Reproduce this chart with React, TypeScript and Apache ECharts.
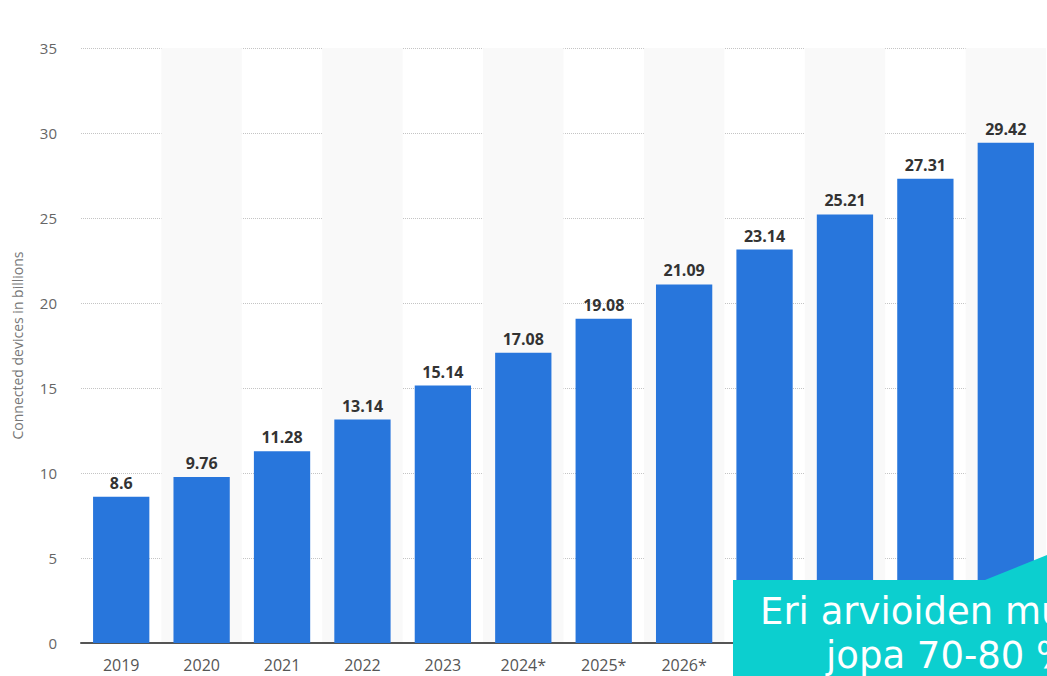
import React, { useEffect, useRef } from "react";
import * as echarts from "echarts";

const categories = ["2019", "2020", "2021", "2022", "2023", "2024*", "2025*", "2026*", "2027*", "2028*", "2029*", "2030*"];
const values = [8.6, 9.76, 11.28, 13.14, 15.14, 17.08, 19.08, 21.09, 23.14, 25.21, 27.31, 29.42];
const yTicks = [0, 5, 10, 15, 20, 25, 30, 35];
const axisTitle = "Connected devices in billions";
const overlayLines = ["Eri arvioiden mukaan", "jopa 70-80 %"];

export default function App() {
  const ref = useRef<HTMLDivElement>(null);
  useEffect(() => {
    document.body.style.margin = "0";
    const chart = echarts.init(ref.current!, null, { renderer: "svg" });
    chart.setOption({
      animation: false,
      textStyle: { fontFamily: "Open Sans" },
      grid: { left: 81, right: 1, top: 48, bottom: 33 },
      xAxis: {
        type: "category",
        data: categories,
        axisLine: { lineStyle: { color: "#555", width: 2 } },
        axisTick: { show: false },
        axisLabel: { color: "#555", fontSize: 16, margin: 14 },
        splitArea: { show: true, areaStyle: { color: ["rgba(255,255,255,0)", "#f9f9f9"] } },
      },
      yAxis: {
        type: "value",
        min: yTicks[0],
        max: yTicks[yTicks.length - 1],
        interval: 5,
        name: axisTitle,
        nameLocation: "middle",
        nameGap: 57,
        nameTextStyle: { color: "#777", fontSize: 14 },
        axisLine: { show: false },
        axisTick: { show: false },
        axisLabel: { color: "#666", fontSize: 15, margin: 24 },
        splitLine: { lineStyle: { type: "dotted", color: "#c4c4c4" } },
      },
      series: [
        {
          type: "bar",
          data: values,
          barWidth: "70%",
          itemStyle: { color: "#2876dc" },
          label: {
            show: true,
            position: "top",
            distance: 6,
            color: "#333",
            fontWeight: "bold",
            fontSize: 16,
          },
        },
      ],
      graphic: [
        {
          type: "polygon",
          z: 100,
          shape: { points: [[733, 580], [985, 580], [1047, 555], [1047, 676], [733, 676]] },
          style: { fill: "#0ccfcf" },
        },
        {
          type: "text",
          z: 101,
          x: 760,
          y: 630,
          style: {
            text: overlayLines[0],
            fill: "#fff",
            fontSize: 37,
            fontFamily: "DejaVu Sans",
            textVerticalAlign: "bottom",
          },
        },
        {
          type: "text",
          z: 101,
          x: 826,
          y: 674,
          style: {
            text: overlayLines[1],
            fill: "#fff",
            fontSize: 37,
            fontFamily: "DejaVu Sans",
            textVerticalAlign: "bottom",
          },
        },
      ],
    });
    return () => chart.dispose();
  }, []);
  return <div ref={ref} style={{ width: 1047, height: 676 }} />;
}
